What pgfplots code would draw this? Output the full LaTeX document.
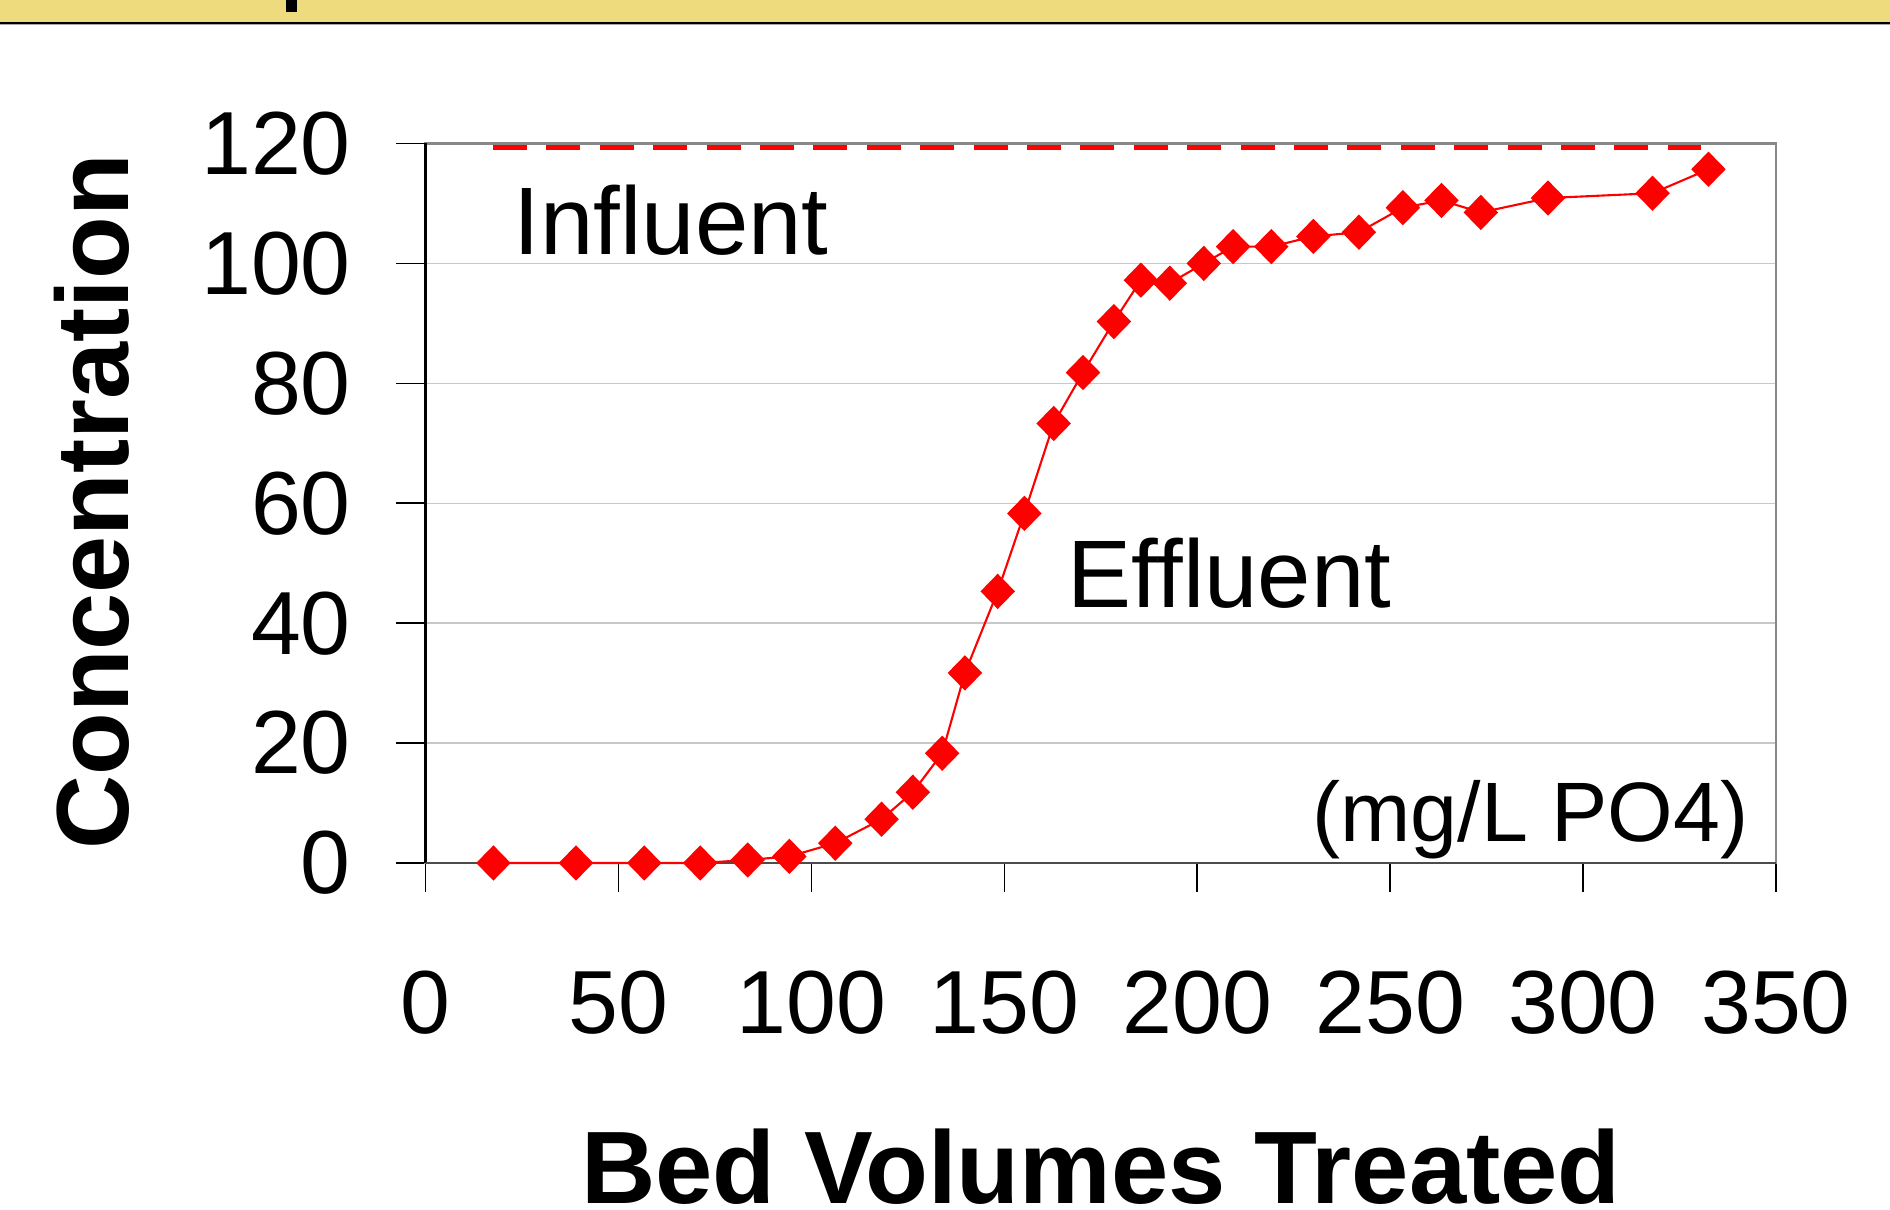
\documentclass[border=0pt]{standalone}
\usepackage{fontspec}
\setmainfont{Liberation Sans}
\usepackage{pgfplots}
\pgfplotsset{compat=1.18}
\definecolor{band}{RGB}{237,219,125}
\definecolor{gridc}{RGB}{200,200,200}
\definecolor{boxc}{RGB}{136,136,136}
\begin{document}
\begin{tikzpicture}[x=1cm,y=1cm]
\fill[white] (0,0) rectangle (18.9,12.1);
\fill[band] (0,11.87) rectangle (18.9,12.1);
\fill[black] (0,11.855) rectangle (18.9,11.875);
\fill[black!35] (0,11.845) rectangle (18.9,11.855);
\fill[black] (2.86,11.98) rectangle (2.97,12.1);
\begin{axis}[
  at={(4.255cm,3.47cm)}, anchor=south west,
  scale only axis, width=13.505cm, height=7.195cm,
  xmin=0, xmax=350, ymin=0, ymax=120,
  xtick={0,50,...,350}, ytick={0,20,...,120},
  tick pos=left, tick align=outside,
  major tick length=0.29cm,
  tick style={black, line width=0.45pt},
  ymajorgrids, grid style={gridc, line width=0.4pt},
  axis line style={boxc, line width=0.6pt},
  /pgf/number format/assume math mode=true,
  ticklabel style={font=\fontsize{25.5}{30}\selectfont, inner sep=0pt},
  yticklabel style={xshift=-0.45cm},
  xticklabel style={yshift=-0.78cm},
  clip=false,
]
\draw[black, line width=0.6pt] (rel axis cs:0,0) -- (rel axis cs:0,1);
\draw[black!70, line width=0.7pt] (rel axis cs:0,0) -- (rel axis cs:1,0);
\addplot[red, line width=1.34pt, dash pattern=on 0.34cm off 0.194cm] coordinates {(17.5,119.3) (330.5,119.3)};
\addplot[red, line width=0.6pt, mark=diamond*, mark size=4.6pt, mark options={xscale=1.3, solid, fill=red, draw=red}] coordinates {
(17.6,0) (39.0,0) (56.7,0) (71.2,0) (83.5,0.5) (94.3,1.1) (106.2,3.3) (118.2,7.3) (126.3,11.8) (133.9,18.3) (139.8,31.7) (148.3,45.3) (155.2,58.3) (162.8,73.3) (170.4,81.8) (178.4,90.3) (185.4,97.2) (192.9,96.7) (201.7,100.0) (209.3,102.8) (219.2,102.8) (230.1,104.5) (241.9,105.2) (253.3,109.3) (263.3,110.5) (273.5,108.5) (290.9,110.9) (318.0,111.7) (332.5,115.7)
};
\end{axis}
\node[anchor=base west, inner sep=0pt, font=\fontsize{27.3}{32}\selectfont] at (5.13,9.557) {Influent};
\node[anchor=base west, inner sep=0pt, font=\fontsize{27.3}{32}\selectfont] at (10.67,6.02) {Effluent};
\node[anchor=base east, inner sep=0pt, font=\fontsize{24}{29}\selectfont] at (17.49,3.68) {(mg/L PO4)};
\node[anchor=base, inner sep=0pt, font=\bfseries\fontsize{29.3}{34}\selectfont] at (11.01,0.06) {Bed Volumes Treated};
\node[rotate=90, anchor=base, inner sep=0pt, font=\bfseries\fontsize{29.2}{34}\selectfont] at (1.28,7.08) {Concentration};
\pgfresetboundingbox
\useasboundingbox (0,0) rectangle (18.9,12.1);
\end{tikzpicture}
\end{document}
